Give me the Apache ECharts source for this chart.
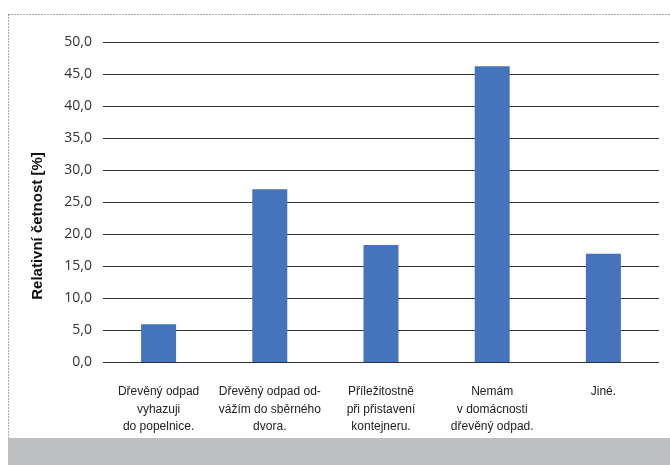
<!DOCTYPE html>
<html>
<head>
<meta charset="utf-8">
<script src="https://cdn.jsdelivr.net/npm/echarts@6/dist/echarts.min.js"></script>
<style>
  html, body { margin: 0; padding: 0; background: #fff; }
  #chart { width: 670px; height: 465px; }
</style>
</head>
<body>
<div id="chart"></div>
<script>
  const categories = [
    'Dřevěný odpad\nvyhazuji\ndo popelnice.',
    'Dřevěný odpad od-\nvážím do sběrného\ndvora.',
    'Příležitostně\npři přistavení\nkontejneru.',
    'Nemám\nv domácnosti\ndřevěný odpad.',
    'Jiné.'
  ]
  const values = [5.9, 27.0, 18.3, 46.2, 16.9]

  const chart = echarts.init(document.getElementById('chart'))

  chart.setOption({
    backgroundColor: '#fff',
    animation: false,
    graphic: [
      {
        type: 'rect',
        shape: { x: 8.5, y: 14.5, width: 670, height: 424 },
        style: { fill: 'none', stroke: '#555', lineWidth: 1, lineDash: [1, 2] },
        z: -1
      },
      {
        type: 'rect',
        shape: { x: 8, y: 438, width: 662, height: 27 },
        style: { fill: '#bebfc1' },
        z: 0
      }
    ],
    grid: { left: 103, right: 11, top: 42, bottom: 103 },
    xAxis: {
      type: 'category',
      data: categories,
      axisLine: { show: false },
      axisTick: { show: false },
      axisLabel: {
        interval: 0,
        margin: 21,
        fontFamily: 'Liberation Sans',
        fontSize: 12,
        lineHeight: 17.5,
        color: '#222'
      }
    },
    yAxis: {
      type: 'value',
      min: 0,
      max: 50,
      interval: 5,
      name: 'Relativní četnost [%]',
      nameLocation: 'middle',
      nameGap: 58,
      nameTextStyle: {
        fontFamily: 'Liberation Sans',
        fontWeight: 'bold',
        fontSize: 15,
        color: '#111',
        padding: [0, 48, 0, 0]
      },
      axisLabel: {
        margin: 11,
        fontFamily: 'Open Sans',
        fontSize: 14,
        color: '#333',
        formatter: v => v.toFixed(1).replace('.', ',')
      },
      splitLine: { lineStyle: { color: '#333', width: 1 } }
    },
    series: [
      {
        type: 'bar',
        data: values,
        barWidth: 35,
        itemStyle: { color: '#4574bc' }
      }
    ]
  })
</script>
</body>
</html>
